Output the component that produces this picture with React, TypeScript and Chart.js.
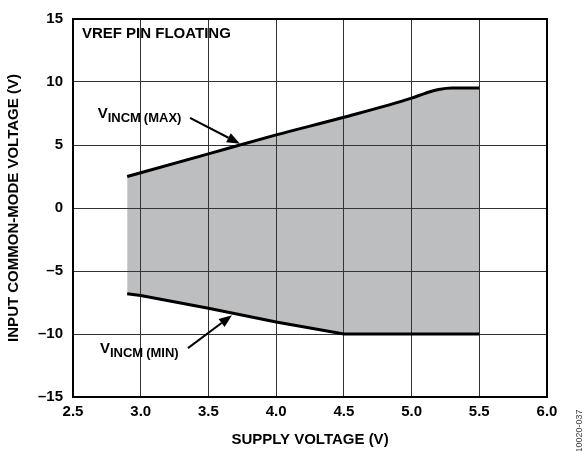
import React, { useEffect, useRef } from "react";
import { Chart, registerables } from "chart.js";

Chart.register(...registerables);

const supplyVoltage = [2.9, 3.0, 3.5, 4.0, 4.5, 5.0, 5.1, 5.2, 5.3, 5.5];
const vincmMax = [2.5, 2.8, 4.3, 5.8, 7.2, 8.72, 9.1, 9.4, 9.52, 9.52];
const vincmMin = [-6.8, -6.95, -7.95, -9.04, -10, -10, -10, -10, -10, -10];
const xTicks = [2.5, 3.0, 3.5, 4.0, 4.5, 5.0, 5.5, 6.0];
const yTicks = [-15, -10, -5, 0, 5, 10, 15];

const FONT = "Arial, 'Liberation Sans', Helvetica, sans-serif";

const annotationPlugin = {
  id: "annot",
  afterDraw(chart: any) {
    const { ctx, chartArea, scales } = chart;
    const xs = scales.x;
    const ys = scales.y;
    const px = (v: number) => xs.getPixelForValue(v);
    const py = (v: number) => ys.getPixelForValue(v);
    ctx.save();
    // frame
    ctx.strokeStyle = "#000";
    ctx.lineWidth = 2;
    ctx.strokeRect(chartArea.left, chartArea.top, chartArea.right - chartArea.left, chartArea.bottom - chartArea.top);

    ctx.fillStyle = "#000";
    ctx.textAlign = "left";
    ctx.textBaseline = "alphabetic";
    ctx.font = `bold 15px ${FONT}`;
    ctx.fillText("VREF PIN FLOATING", px(2.566), py(13.46));

    const subLabel = (x: number, y: number, sub: string, tail: string) => {
      ctx.font = `bold 15px ${FONT}`;
      ctx.fillText("V", x, y);
      let cx = x + ctx.measureText("V").width;
      ctx.font = `bold 13px ${FONT}`;
      ctx.fillText(sub, cx, y + 4);
      cx += ctx.measureText(sub).width + 3;
      ctx.fillText(tail, cx, y + 4);
    };
    subLabel(px(2.682), py(7.14), "INCM", "(MAX)");
    subLabel(px(2.699), py(-11.49), "INCM", "(MIN)");

    const arrow = (x1: number, y1: number, x2: number, y2: number) => {
      const ang = Math.atan2(y2 - y1, x2 - x1);
      const hl = 13;
      const hw = 5;
      const bx = x2 - hl * Math.cos(ang);
      const by = y2 - hl * Math.sin(ang);
      ctx.strokeStyle = "#000";
      ctx.lineWidth = 2;
      ctx.beginPath();
      ctx.moveTo(x1, y1);
      ctx.lineTo(bx, by);
      ctx.stroke();
      ctx.beginPath();
      ctx.moveTo(x2, y2);
      ctx.lineTo(bx + hw * Math.sin(ang), by - hw * Math.cos(ang));
      ctx.lineTo(bx - hw * Math.sin(ang), by + hw * Math.cos(ang));
      ctx.closePath();
      ctx.fill();
    };
    arrow(px(3.364), py(7.16), px(3.733), py(5.1));
    arrow(px(3.349), py(-11.12), px(3.674), py(-8.51));

    // figure code
    ctx.save();
    ctx.translate(chart.width - 4, 431);
    ctx.rotate(-Math.PI / 2);
    ctx.font = `9px ${FONT}`;
    ctx.fillStyle = "#444";
    ctx.textAlign = "center";
    ctx.textBaseline = "middle";
    ctx.fillText("10020-037", 0, 0);
    ctx.restore();

    ctx.restore();
  },
};

export default function App() {
  const ref = useRef<HTMLCanvasElement | null>(null);
  useEffect(() => {
    document.body.style.margin = "0";
    if (!ref.current) return;
    const chart = new Chart(ref.current, {
      type: "line",
      data: {
        datasets: [
          {
            label: "VINCM (MAX)",
            data: supplyVoltage.map((x, i) => ({ x, y: vincmMax[i] })),
            borderColor: "#000",
            borderWidth: 3,
            pointRadius: 0,
            backgroundColor: "#bdbec0",
            fill: "+1",
            cubicInterpolationMode: "monotone",
          },
          {
            label: "VINCM (MIN)",
            data: supplyVoltage.map((x, i) => ({ x, y: vincmMin[i] })),
            borderColor: "#000",
            borderWidth: 3,
            pointRadius: 0,
            fill: false,
            tension: 0,
          },
        ],
      },
      options: {
        animation: false,
        responsive: false,
        devicePixelRatio: 1,
        layout: { padding: { left: 0, top: 18, right: 37, bottom: 0 } },
        plugins: {
          legend: { display: false },
          tooltip: { enabled: false },
          filler: { drawTime: "beforeDraw" },
        } as any,
        scales: {
          x: {
            type: "linear",
            min: 2.5,
            max: 6.0,
            afterBuildTicks: (s: any) => {
              s.ticks = xTicks.map((v) => ({ value: v }));
            },
            afterFit: (s: any) => {
              s.height = 54;
            },
            ticks: {
              padding: 6,
              color: "#000",
              font: { family: FONT, size: 15, weight: "bold" },
              callback: (v: any) => Number(v).toFixed(1),
            },
            grid: { color: "#333", lineWidth: 1, drawTicks: false },
            border: { color: "#000", width: 2 },
            title: {
              display: true,
              text: "SUPPLY VOLTAGE (V)",
              color: "#000",
              font: { family: FONT, size: 15, weight: "bold" },
              padding: { top: 0, bottom: 2 },
            },
          },
          y: {
            type: "linear",
            min: -15,
            max: 15,
            afterBuildTicks: (s: any) => {
              s.ticks = yTicks.map((v) => ({ value: v }));
            },
            afterFit: (s: any) => {
              s.width = 73;
            },
            ticks: {
              padding: 10,
              color: "#000",
              font: { family: FONT, size: 15, weight: "bold" },
              callback: (v: any) => String(v).replace("-", "\u2013"),
            },
            grid: { color: "#333", lineWidth: 1, drawTicks: false },
            border: { color: "#000", width: 2 },
            title: {
              display: true,
              text: "INPUT COMMON-MODE VOLTAGE (V)",
              color: "#000",
              font: { family: FONT, size: 15, weight: "bold" },
              padding: { top: 5, bottom: 0 },
            },
          },
        },
      } as any,
      plugins: [annotationPlugin],
    });
    return () => chart.destroy();
  }, []);
  return (
    <div style={{ width: 584, height: 451, background: "#fff" }}>
      <canvas ref={ref} width={584} height={451} style={{ display: "block" }} />
    </div>
  );
}
